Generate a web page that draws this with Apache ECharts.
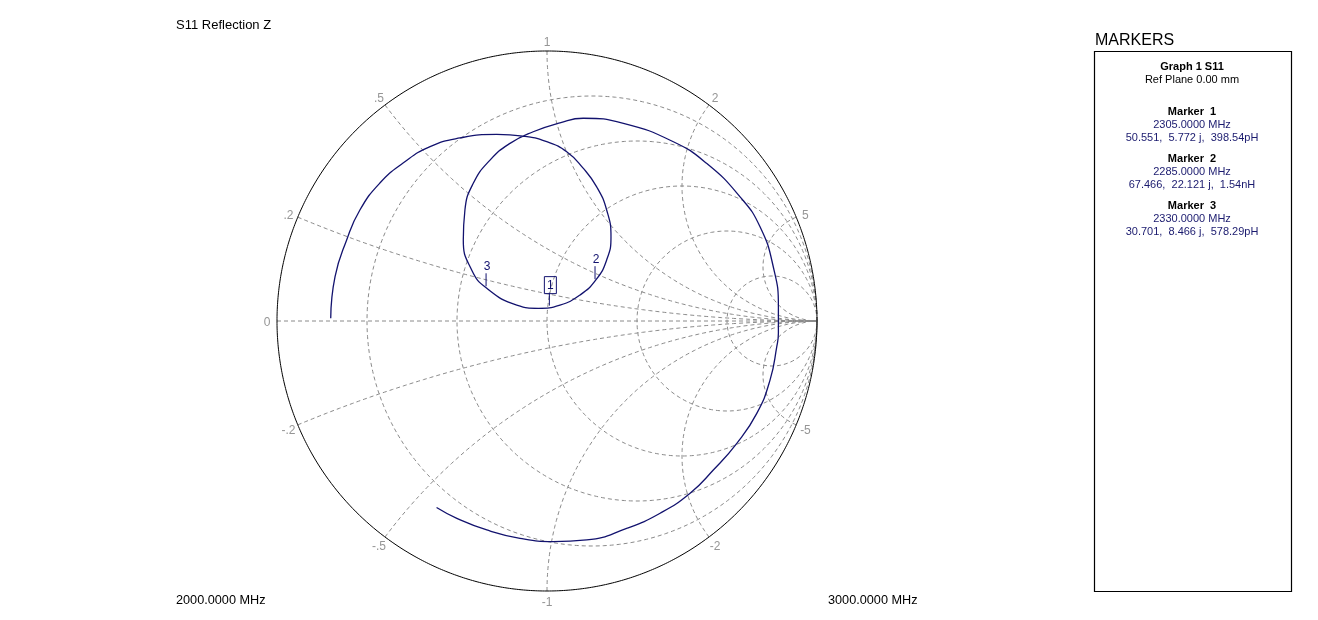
<!DOCTYPE html>
<html>
<head>
<meta charset="utf-8">
<script src="https://cdn.jsdelivr.net/npm/echarts@6/dist/echarts.min.js"></script>
<style>
html,body{margin:0;padding:0;background:#fff;}
#chart{width:1318px;height:620px;}
</style>
</head>
<body>
<div id="chart"></div>
<script>
// ---- Data ----
// Reflection coefficient trace, 2000 MHz -> 3000 MHz (real / imaginary parts of Gamma)
const traceRe = [-0.801,-0.785,-0.742,-0.693,-0.619,-0.533,-0.433,-0.322,-0.186,-0.089,-0.001,0.073,0.133,0.184,0.221,0.237,0.221,0.181,0.122,0.048,-0.032,-0.112,-0.223,-0.279,-0.310,-0.304,-0.273,-0.211,-0.137,-0.051,0.048,0.134,0.283,0.468,0.591,0.715,0.789,0.838,0.857,0.857,0.851,0.826,0.777,0.703,0.616,0.530,0.419,0.295,0.147,0.023,-0.100,-0.223,-0.334,-0.409];
const traceIm = [0.010,0.164,0.300,0.411,0.511,0.585,0.646,0.678,0.691,0.685,0.664,0.627,0.567,0.497,0.411,0.312,0.226,0.152,0.096,0.059,0.047,0.059,0.121,0.189,0.300,0.411,0.510,0.596,0.658,0.701,0.734,0.751,0.732,0.664,0.584,0.460,0.349,0.201,0.053,-0.044,-0.095,-0.219,-0.342,-0.453,-0.552,-0.638,-0.712,-0.768,-0.811,-0.817,-0.805,-0.774,-0.731,-0.691];

// Markers
const markerNames = ['1', '2', '3'];
const markerFreqs = ['2305.0000 MHz', '2285.0000 MHz', '2330.0000 MHz'];
const markerR = [50.551, 67.466, 30.701];
const markerX = [5.772, 22.121, 8.466];
const markerLC = ['398.54pH', '1.54nH', '578.29pH'];
const activeMarker = 0;
const Z0 = 50;

// Smith chart grid values
const resistanceValues = [0.2, 0.5, 1, 2, 5];
const reactanceValues = [0.2, 0.5, 1, 2, 5];
const reactanceTickValues = [0, 0.2, 0.5, 1, 2, 5, -0.2, -0.5, -1, -2, -5];
const reactanceTickLabels = ['0', '.2', '.5', '1', '2', '5', '-.2', '-.5', '-1', '-2', '-5'];

const titleText = 'S11 Reflection Z';
const startFreq = '2000.0000 MHz';
const stopFreq = '3000.0000 MHz';

// ---- helpers ----
function gamma(r, x) { // z = r + jx -> Gamma
  const dr = r + 1, dn = r - 1;
  const den = dr * dr + x * x;
  return [(dn * dr + x * x) / den, (x * dr - dn * x) / den];
}
function resCircle(r) {
  const c = r / (r + 1), rad = 1 / (r + 1), pts = [];
  for (let i = 0; i <= 360; i++) {
    const a = i / 360 * 2 * Math.PI;
    pts.push([c + rad * Math.cos(a), rad * Math.sin(a)]);
  }
  return pts;
}
function reactArc(x) {
  const pts = [];
  for (let i = 0; i <= 400; i++) {
    const t = i / 400;
    const r = t < 1 ? Math.tan(t * Math.PI / 2 * 0.9999) : 1e6;
    pts.push(gamma(r, x));
  }
  pts.push([1, 0]);
  return pts;
}
function outerCircle() {
  const pts = [];
  for (let i = 0; i <= 720; i++) {
    const a = i / 720 * 2 * Math.PI;
    pts.push([Math.cos(a), Math.sin(a)]);
  }
  return pts;
}
function fmtMarker(i) {
  return markerR[i].toFixed(3) + ',  ' + markerX[i].toFixed(3) + ' j,  ' + markerLC[i];
}

const FONT = 'Liberation Sans, Arial, sans-serif';
const gridColor = '#8a8a8a';
const dashed = { color: gridColor, width: 1, type: [4, 3] };
const series = [];

resistanceValues.forEach(r => series.push({
  type: 'line', data: resCircle(r), showSymbol: false, silent: true, clip: false,
  lineStyle: dashed, z: 1
}));
reactanceValues.forEach(x => {
  series.push({ type: 'line', data: reactArc(x), showSymbol: false, silent: true, clip: false, lineStyle: dashed, z: 1 });
  series.push({ type: 'line', data: reactArc(-x), showSymbol: false, silent: true, clip: false, lineStyle: dashed, z: 1 });
});
series.push({ type: 'line', data: [[-1, 0], [1, 0]], showSymbol: false, silent: true, clip: false, lineStyle: dashed, z: 1 });
series.push({ type: 'line', data: outerCircle(), showSymbol: false, silent: true, clip: false,
  lineStyle: { color: '#000', width: 1 }, z: 2 });

// reactance tick labels around the outer circle
const k = 1 + 10 / 270;
series.push({
  type: 'scatter', symbolSize: 0, silent: true, clip: false, z: 3,
  data: reactanceTickValues.map((x, i) => {
    const g = gamma(0, x);
    return { value: [g[0] * k, g[1] * k], name: reactanceTickLabels[i] };
  }),
  label: { show: true, position: 'inside', offset: [0, 2], formatter: p => p.name, color: '#7a7a7a',
    fontFamily: FONT, fontSize: 12 }
});

// trace
const traceColor = '#12126e';
series.push({
  type: 'line', data: traceRe.map((u, i) => [u, traceIm[i]]), showSymbol: false, smooth: 0.5,
  clip: false, silent: true, z: 5, lineStyle: { color: traceColor, width: 1.3 }
});

// markers
series.push({
  type: 'custom', clip: false, silent: true, z: 6,
  data: markerR.map((R, i) => gamma(R / Z0, markerX[i] / Z0)),
  renderItem: function (params, api) {
    const p = api.coord([api.value(0), api.value(1)]);
    const i = params.dataIndex;
    const tick = 13;
    const children = [{
      type: 'line', shape: { x1: p[0], y1: p[1], x2: p[0], y2: p[1] - tick },
      style: { stroke: traceColor, lineWidth: 1 }
    }];
    const ty = p[1] - tick - 7;
    if (i === activeMarker) {
      children.push({ type: 'rect', shape: { x: p[0] - 5, y: p[1] - tick - 16, width: 12, height: 17 },
        style: { fill: 'none', stroke: traceColor, lineWidth: 1 } });
    }
    children.push({ type: 'text', style: { text: markerNames[i], x: p[0] + 1, y: ty, align: 'center',
      verticalAlign: 'middle', fill: traceColor, font: '12px ' + FONT } });
    return { type: 'group', children: children };
  }
});

// titles and marker panel texts
const panelX = 1192;
const graphic = [
  { type: 'text', x: 176, y: 25, style: { text: titleText, verticalAlign: 'middle', fill: '#000', font: '13px ' + FONT } },
  { type: 'text', x: 176, y: 600, style: { text: startFreq, verticalAlign: 'middle', fill: '#000', font: '12.7px ' + FONT } },
  { type: 'text', x: 828, y: 600, style: { text: stopFreq, verticalAlign: 'middle', fill: '#000', font: '12.7px ' + FONT } },
  { type: 'text', x: 1095, y: 41, style: { text: 'MARKERS', verticalAlign: 'middle', fill: '#000', font: '16px ' + FONT } },
  { type: 'rect', shape: { x: 1094.5, y: 51.5, width: 197, height: 540 }, style: { fill: 'none', stroke: '#000', lineWidth: 1.2 } },
  { type: 'text', x: panelX, y: 67, style: { text: 'Graph 1 S11', align: 'center', verticalAlign: 'middle', fill: '#000', font: 'bold 11px ' + FONT } },
  { type: 'text', x: panelX, y: 80, style: { text: 'Ref Plane 0.00 mm', align: 'center', verticalAlign: 'middle', fill: '#000', font: '11px ' + FONT } }
];
markerNames.forEach((n, i) => {
  const y0 = 112 + i * 47;
  graphic.push({ type: 'text', x: panelX, y: y0, style: { text: 'Marker  ' + n, align: 'center', verticalAlign: 'middle', fill: '#000', font: 'bold 11px ' + FONT } });
  graphic.push({ type: 'text', x: panelX, y: y0 + 13, style: { text: markerFreqs[i], align: 'center', verticalAlign: 'middle', fill: '#1a1a6e', font: '11px ' + FONT } });
  graphic.push({ type: 'text', x: panelX, y: y0 + 26, style: { text: fmtMarker(i), align: 'center', verticalAlign: 'middle', fill: '#1a1a6e', font: '11px ' + FONT } });
});

const chart = echarts.init(document.getElementById('chart'), null, { renderer: 'canvas' });
chart.setOption({
  animation: false,
  backgroundColor: '#fff',
  grid: { left: 277, top: 51, width: 540, height: 540 },
  xAxis: { type: 'value', min: -1, max: 1, show: false },
  yAxis: { type: 'value', min: -1, max: 1, show: false },
  series: series,
  graphic: graphic
});
</script>
</body>
</html>
